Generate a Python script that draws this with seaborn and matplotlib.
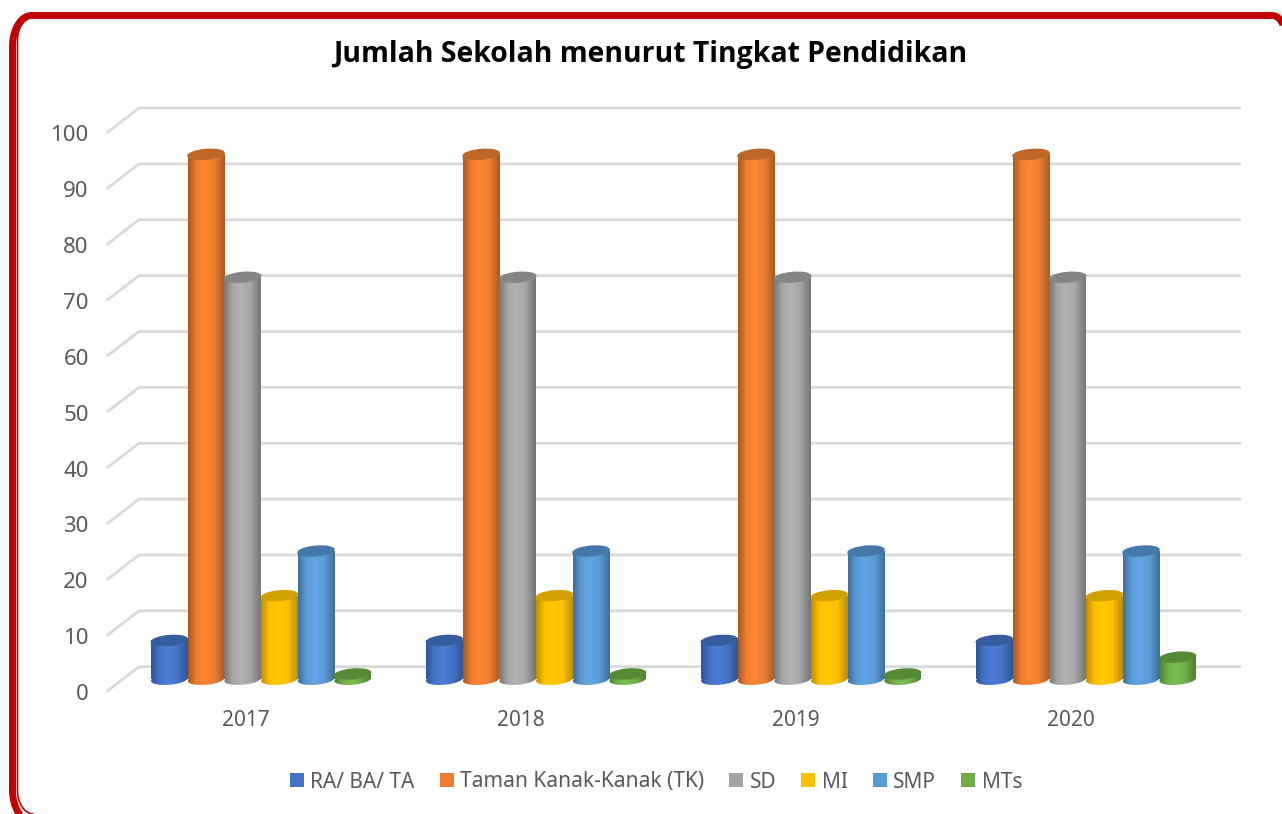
import pandas as pd
import numpy as np
import matplotlib
matplotlib.use('Agg')
import matplotlib.pyplot as plt
import seaborn as sns
from matplotlib.colors import LinearSegmentedColormap
from matplotlib.lines import Line2D
from matplotlib.patches import Ellipse, Rectangle
from matplotlib.transforms import IdentityTransform, ScaledTranslation

# data
years = ['2017', '2018', '2019', '2020']
ra = [7, 7, 7, 7]
tk = [94, 94, 94, 94]
sd = [72, 72, 72, 72]
mi = [15, 15, 15, 15]
smp = [23, 23, 23, 23]
mts = [1, 1, 1, 4]
names = ['RA/ BA/ TA', 'Taman Kanak-Kanak (TK)', 'SD', 'MI', 'SMP', 'MTs']
yticks = list(range(0, 101, 10))

# warna: dasar, terang, gelap (tepi), tutup
base = ['#4472C4', '#ED7D31', '#A5A5A5', '#FFC000', '#5B9BD5', '#70AD47']
bright = ['#4C7DD8', '#FF8633', '#B4B4B4', '#FFCA00', '#62A6E8', '#7CBF4E']
dark = ['#2F5597', '#A85A22', '#767676', '#BC8E00', '#3F7099', '#4F7D32']
lid = ['#345C9E', '#BE6528', '#858585', '#D2A000', '#4478A8', '#568A36']

rows = []
for name, vals in zip(names, [ra, tk, sd, mi, smp, mts]):
    for y, v in zip(years, vals):
        rows.append({'tahun': y, 'jenis': name, 'nilai': v})
df = pd.DataFrame(rows)

sns.set_theme(style='white')
plt.rcParams['font.family'] = ['Noto Sans', 'DejaVu Sans']
W, H = 1282, 814
fig = plt.figure(figsize=(W / 100, H / 100), dpi=100)
fig.patch.set_facecolor('white')

# posisi sumbu dalam piksel: kategori 275 px, nilai 5.587 px per unit
y0_px = 679.5
ax_left, ax_w = 123.5, 1100
ax_h = 558.7
ax = fig.add_axes([ax_left / W, (H - y0_px) / H, ax_w / W, ax_h / H])
sns.barplot(data=df, x='tahun', y='nilai', hue='jenis', hue_order=names, palette=base,
            width=0.8, gap=0, saturation=1, linewidth=0, ax=ax, zorder=3)
ax.set_xlim(-0.5, 3.5)
ax.set_ylim(0, 100)
ax.set_xlabel('')
ax.set_ylabel('')
sns.despine(ax=ax, left=True, bottom=True)

def px_x(p):
    return (p - (ax_left + ax_w / 8)) / 275

# garis kisi dengan kaki miring ke depan
for v in yticks:
    ax.plot([px_x(107.5), px_x(139), px_x(1240)], [v - 2.06, v + 2.29, v + 2.29],
            color='#D9D9D9', lw=2, clip_on=False, zorder=1, solid_joinstyle='miter')

# silinder
fig.canvas.draw()
for i, cont in enumerate(ax.containers):
    cmap = LinearSegmentedColormap.from_list('c%d' % i, [(0, dark[i]), (0.22, base[i]), (0.45, bright[i]),
                                                         (0.72, base[i]), (1, dark[i])])
    grad = np.linspace(0, 1, 64).reshape(1, -1)
    for bar in cont:
        x, w, h = bar.get_x(), bar.get_width(), bar.get_height()
        z = 3 + i * 0.1
        bar.set_visible(False)
        x0, y_base = ax.transData.transform((x + w / 2, 0))
        x1, y_top = ax.transData.transform((x + w / 2, h))
        w_px = ax.transData.transform((x + w, 0))[0] - ax.transData.transform((x, 0))[0]
        # badan
        im = ax.imshow(grad, cmap=cmap, extent=(x, x + w, 0, h), aspect='auto', zorder=z)
        rect = Rectangle((x, 0), w, h, transform=ax.transData)
        im.set_clip_path(rect)
        # alas
        foot = Ellipse((x0, y_base), w_px, 10.5, angle=5, transform=IdentityTransform())
        im2 = ax.imshow(grad, cmap=cmap, extent=(x, x + w, -2, 2), aspect='auto', zorder=z)
        im2.set_clip_box(fig.bbox)
        im2.set_clip_path(foot)
        # tutup
        ax.add_patch(Ellipse((x1, y_top), w_px + 1, 11, angle=5, transform=IdentityTransform(),
                             facecolor=lid[i], edgecolor='none', zorder=z + 0.05, clip_on=False))
ax.set_xlim(-0.5, 3.5)
ax.set_ylim(0, 100)

# label
ax.set_yticks(yticks)
ax.set_yticklabels([str(v) for v in yticks])
ax.tick_params(axis='y', length=0, pad=25, labelsize=16, labelcolor='#595959')
ax.tick_params(axis='x', length=0, pad=22, labelsize=15, labelcolor='#595959')
shift = ScaledTranslation(0, -12.5 / 100, fig.dpi_scale_trans)
for lab in ax.get_yticklabels():
    lab.set_transform(lab.get_transform() + shift)
shift_x = ScaledTranslation(-15 / 100, 0, fig.dpi_scale_trans)
for lab in ax.get_xticklabels():
    lab.set_transform(lab.get_transform() + shift_x)

sns.move_legend(ax, 'center', bbox_to_anchor=(656 / W, (H - 782) / H), bbox_transform=fig.transFigure,
                ncol=6, frameon=False, title=None, fontsize=15, labelcolor='#595959',
                handlelength=0.68, handleheight=0.68, handletextpad=0.3, columnspacing=1.2)

fig.text(650 / W, 1 - 54.5 / H, 'Jumlah Sekolah menurut Tingkat Pendidikan', ha='center', va='center',
         fontsize=20.4, fontweight='bold', color='black', family=['Open Sans', 'DejaVu Sans'])

# bingkai merah, koordinat piksel dari atas
def arc(cx, cy, rx, ry, a0, a1):
    t = np.radians(np.linspace(a0, a1, 30))
    return cx + rx * np.cos(t), cy + ry * np.sin(t)

def frame_line(parts, lw):
    xs = np.concatenate([p[0] for p in parts])
    ys = np.concatenate([p[1] for p in parts])
    fig.add_artist(Line2D(xs, H - ys, transform=IdentityTransform(), color='#C00000', lw=lw,
                          solid_capstyle='butt', solid_joinstyle='round'))

frame_line([arc(31.5, 790, 19, 31, 90, 180), arc(31.5, 46.5, 19, 31, 180, 270),
            arc(1272, 31.5, 12, 16, 270, 360)], 5)
frame_line([arc(33.5, 790, 16, 24, 90, 180), arc(33.5, 40, 16, 22.5, 180, 270)], 1.2)

fig.savefig('out.png', dpi=100)
